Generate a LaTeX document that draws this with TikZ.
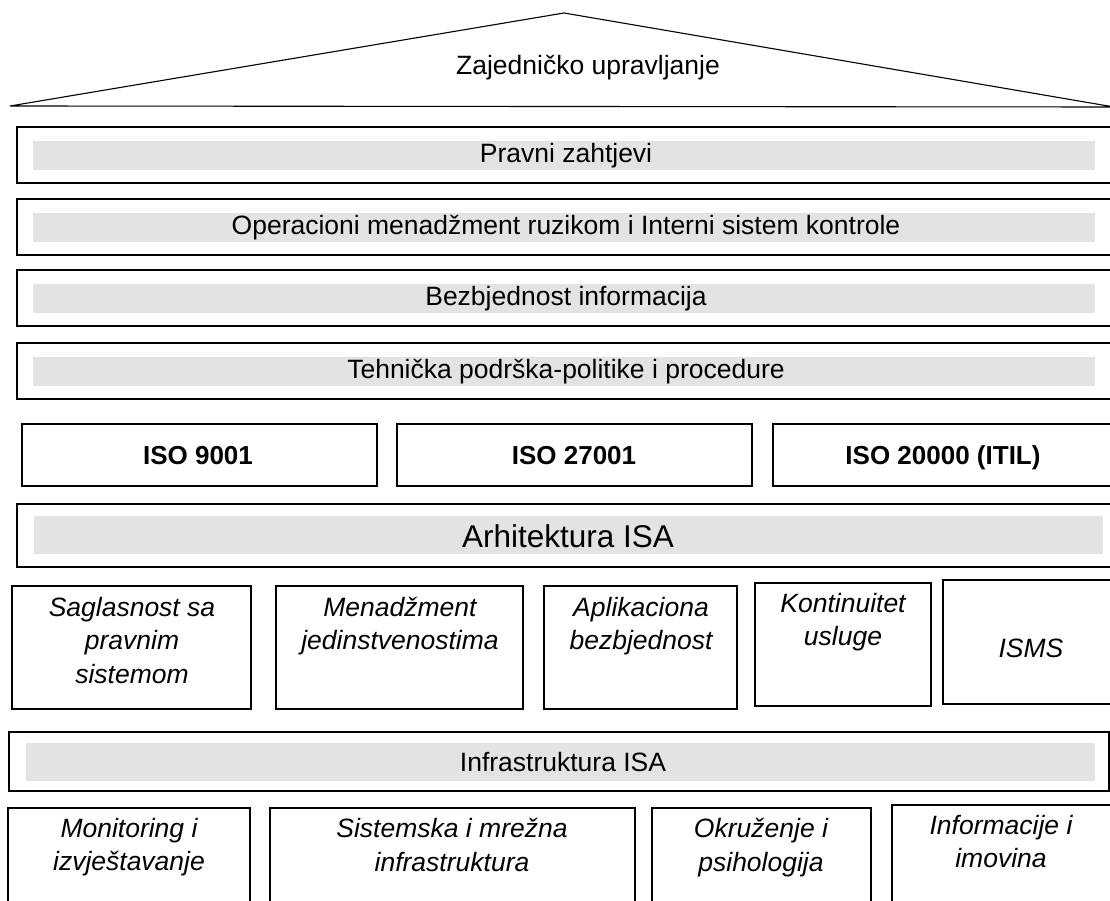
\documentclass[tikz,border=0pt]{standalone}
\usepackage{fontspec}
\setmainfont{Liberation Sans}

\begin{document}
\begin{tikzpicture}[x=1pt,y=-1pt,
	frame/.style={draw=black,line width=1.3pt},
	bar/.style={fill=gray!22},
	lbl/.style={font=\fontsize{26.5}{32}\selectfont,inner sep=0pt},
	iso/.style={font=\fontsize{26}{32}\selectfont\bfseries,inner sep=0pt,anchor=base},
	cell/.style={font=\fontsize{26.5}{33.5}\selectfont\itshape,align=center,anchor=north,inner sep=0pt}]
	\useasboundingbox (0,0) rectangle (1110,901);
	\clip (0,0) rectangle (1110,901);

	% krov
	\draw[frame,line width=1.1pt] (10,106) -- (564,13) -- (1114,107) -- cycle;
	\node[lbl] (krov) at (588,68) {Zajedničko upravljanje};

	% gornji slojevi
	\foreach \t/\n/\txt in {127/pravni/Pravni zahtjevi,
		199/rizik/Operacioni menadžment ruzikom i Interni sistem kontrole,
		270/bezb/Bezbjednost informacija,
		343/teh/Tehnička podrška-politike i procedure}{
		\draw[frame] (17,\t) rectangle (1114,\t+56);
		\fill[bar] (33,\t+14) rectangle (1095,\t+43);
		\node[lbl] (\n) at (566,\t+29) {\txt};
	}

	% standardi
	\draw[frame] (22,424) rectangle (377,486);
	\draw[frame] (397,424) rectangle (752,486);
	\draw[frame] (773,424) rectangle (1114,486);
	\node[iso] (iso9) at (198,464) {ISO 9001};
	\node[iso] (iso27) at (574,464) {ISO 27001};
	\node[iso] (iso20) at (943,464) {ISO 20000 (ITIL)};

	% arhitektura
	\draw[frame] (17,504) rectangle (1114,567);
	\fill[bar] (34,516) rectangle (1103,554);
	\node[lbl,font=\fontsize{31.5}{36}\selectfont] (arh) at (568,536) {Arhitektura ISA};

	\draw[frame] (12,586) rectangle (251,709);
	\draw[frame] (276,586) rectangle (523,709);
	\draw[frame] (544,586) rectangle (737,709);
	\draw[frame] (755,583) rectangle (931,706);
	\draw[frame] (943,580) rectangle (1114,704);
	\node[cell] (sagl) at (132,597) {Saglasnost sa\\pravnim\\sistemom};
	\node[cell] (jedin) at (400,597) {Menadžment\\jedinstvenostima};
	\node[cell] (apl) at (641,597) {Aplikaciona\\bezbjednost};
	\node[cell] (kont) at (843,593) {Kontinuitet\\usluge};
	\node[cell,anchor=center] (isms) at (1031,648) {ISMS};

	% infrastruktura
	\draw[frame] (9,732) rectangle (1109,791);
	\fill[bar] (26,743) rectangle (1095,781);
	\node[lbl] (infra) at (563,762) {Infrastruktura ISA};

	\draw[frame] (8,808) rectangle (250,920);
	\draw[frame] (270,808) rectangle (635,920);
	\draw[frame] (652,808) rectangle (871,920);
	\draw[frame] (892,805) rectangle (1114,920);
	\node[cell] (monit) at (129,818) {Monitoring i\\izvještavanje};
	\node[cell] (mreza) at (452,818) {Sistemska i mrežna\\infrastruktura};
	\node[cell] (okr) at (761,818) {Okruženje i\\psihologija};
	\node[cell] (info) at (1001,815) {Informacije i\\imovina};
\end{tikzpicture}
\end{document}
